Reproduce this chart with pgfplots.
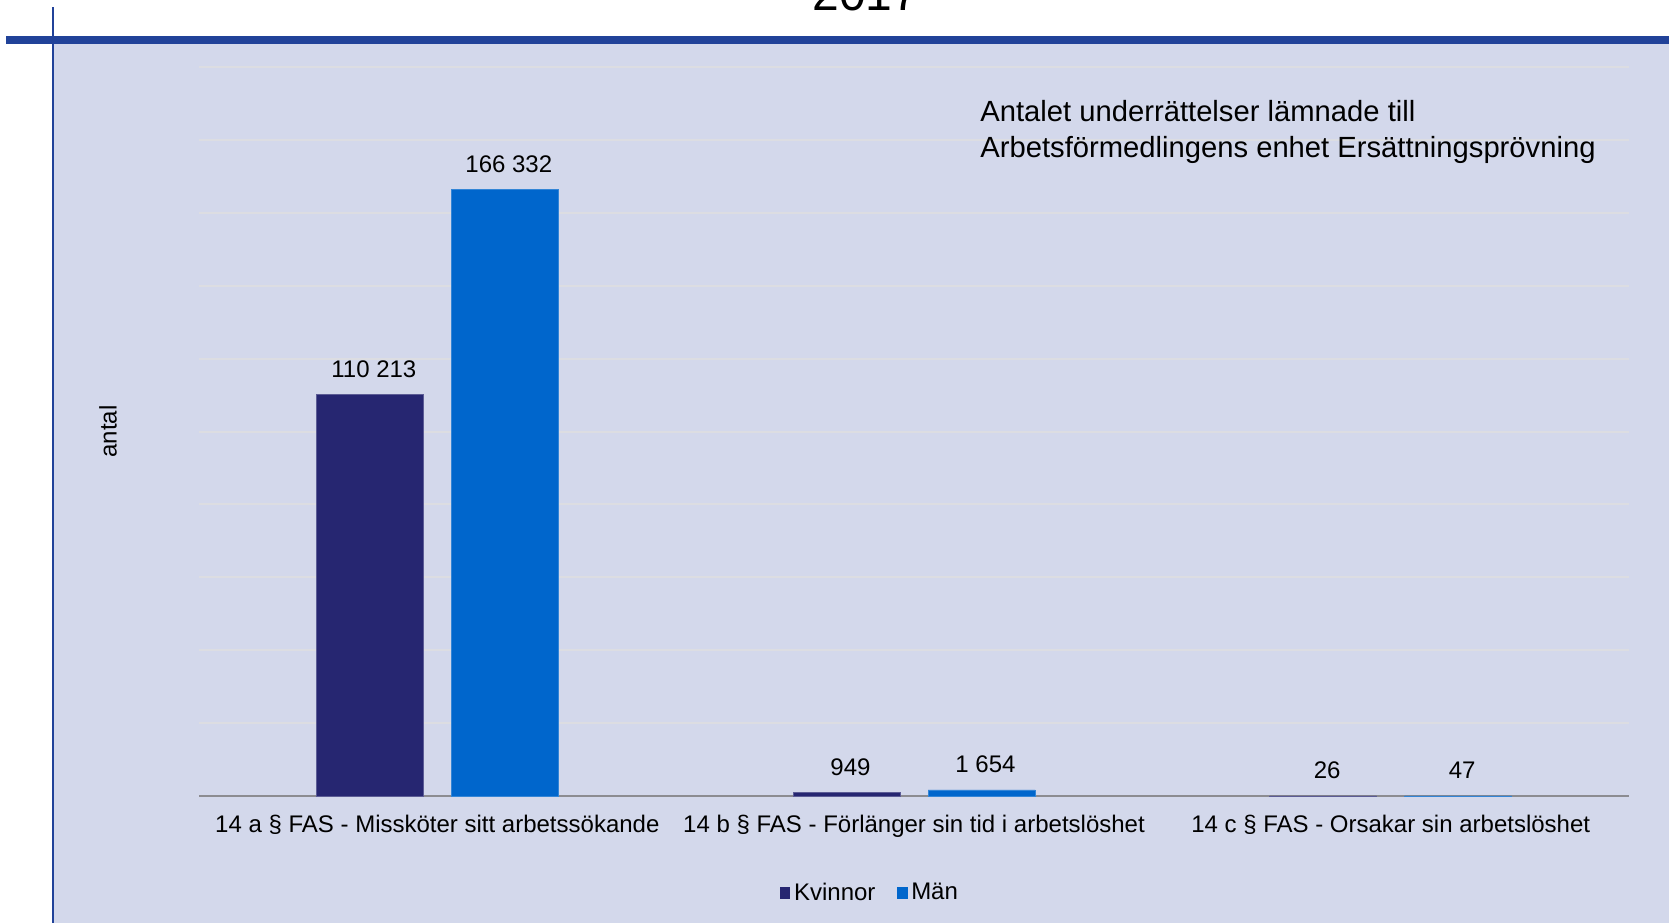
\documentclass[border=0pt]{standalone}
\usepackage{fontspec}
\setmainfont{Liberation Sans}
\usepackage{pgfplots}
\pgfplotsset{compat=1.18}
\definecolor{bgc}{RGB}{211,216,235}
\definecolor{bandc}{RGB}{33,66,153}
\definecolor{kvc}{RGB}{38,38,113}
\definecolor{manc}{RGB}{0,102,204}
\definecolor{gridc}{RGB}{220,221,226}
\definecolor{axisc}{RGB}{140,140,145}
\begin{document}
\begin{tikzpicture}
\useasboundingbox (0,0) rectangle (834.5pt,-461.5pt);
\fill[white] (0,0) rectangle (834.5pt,-461.5pt);
\fill[bgc] (27.15pt,-21.85pt) rectangle (834.5pt,-461.5pt);
\fill[bandc] (3pt,-17.85pt) rectangle (834.5pt,-21.85pt);
\fill[bandc] (26.15pt,-3.65pt) rectangle (27.15pt,-461.5pt);
\node[font=\fontsize{24}{28}\selectfont, anchor=base, inner sep=0] at (433pt,-5pt) {2017};
\begin{axis}[
  at={(99.5pt,-398pt)}, anchor=south west,
  scale only axis, width=715pt, height=364.5pt,
  xmin=-0.5, xmax=2.5, ymin=0, ymax=200000,
  scaled y ticks=false,
  axis line style={draw=none},
  major tick length=0pt,
  ytick={20000,40000,...,200000}, yticklabels={},
  ymajorgrids, grid style={draw=gridc, line width=1pt},
  extra y ticks={0}, extra y tick labels={},
  extra y tick style={grid style={draw=axisc, line width=1pt}},
  xtick={0,1,2},
  xticklabels={14 a § FAS - Missköter sitt arbetssökande, 14 b § FAS - Förlänger sin tid i arbetslöshet, 14 c § FAS - Orsakar sin arbetslöshet},
  xticklabel style={font=\fontsize{12}{14}\selectfont, yshift=-6pt},
  ylabel={antal},
  ylabel style={at={(axis description cs:-0.0636,0.5)}, anchor=center, font=\fontsize{12}{14}\selectfont},
  legend columns=2,
  legend style={at={(0.4700,-0.133)}, anchor=center, draw=none, fill=none,
    font=\fontsize{12}{14}\selectfont, inner sep=0pt,
    /tikz/every even column/.append style={column sep=9pt}},
  every node near coord/.append style={font=\fontsize{12}{14}\selectfont, yshift=5pt, xshift=2pt, text=black},
]
\addplot[ybar, bar width=53.5pt, bar shift=-33.75pt, fill=kvc, draw=kvc!75!white, line width=0.3pt,
  nodes near coords, point meta=explicit symbolic,
  nodes near coords style={xshift=-33.75pt},
  legend image code/.code={\fill[kvc] (0pt,-2.8pt) rectangle (4.6pt,2.8pt);}]
  coordinates {(0,110213) [110 213] (1,949) [949] (2,26) [26]};
\addlegendentry{Kvinnor}
\addplot[ybar, bar width=53.5pt, bar shift=33.75pt, fill=manc, draw=manc!80!white, line width=0.3pt,
  nodes near coords, point meta=explicit symbolic,
  nodes near coords style={xshift=33.75pt},
  legend image code/.code={\fill[manc] (0pt,-2.8pt) rectangle (4.6pt,2.8pt);}]
  coordinates {(0,166332) [166 332] (1,1654) [1 654] (2,47) [47]};
\addlegendentry{Män}
\end{axis}
\node[font=\fontsize{14.6}{18}\selectfont, anchor=base west, inner sep=0] at (490pt,-60.6pt) {Antalet underrättelser lämnade till};
\node[font=\fontsize{14.6}{18}\selectfont, anchor=base west, inner sep=0] at (490pt,-78.7pt) {Arbetsförmedlingens enhet Ersättningsprövning};
\end{tikzpicture}
\end{document}
